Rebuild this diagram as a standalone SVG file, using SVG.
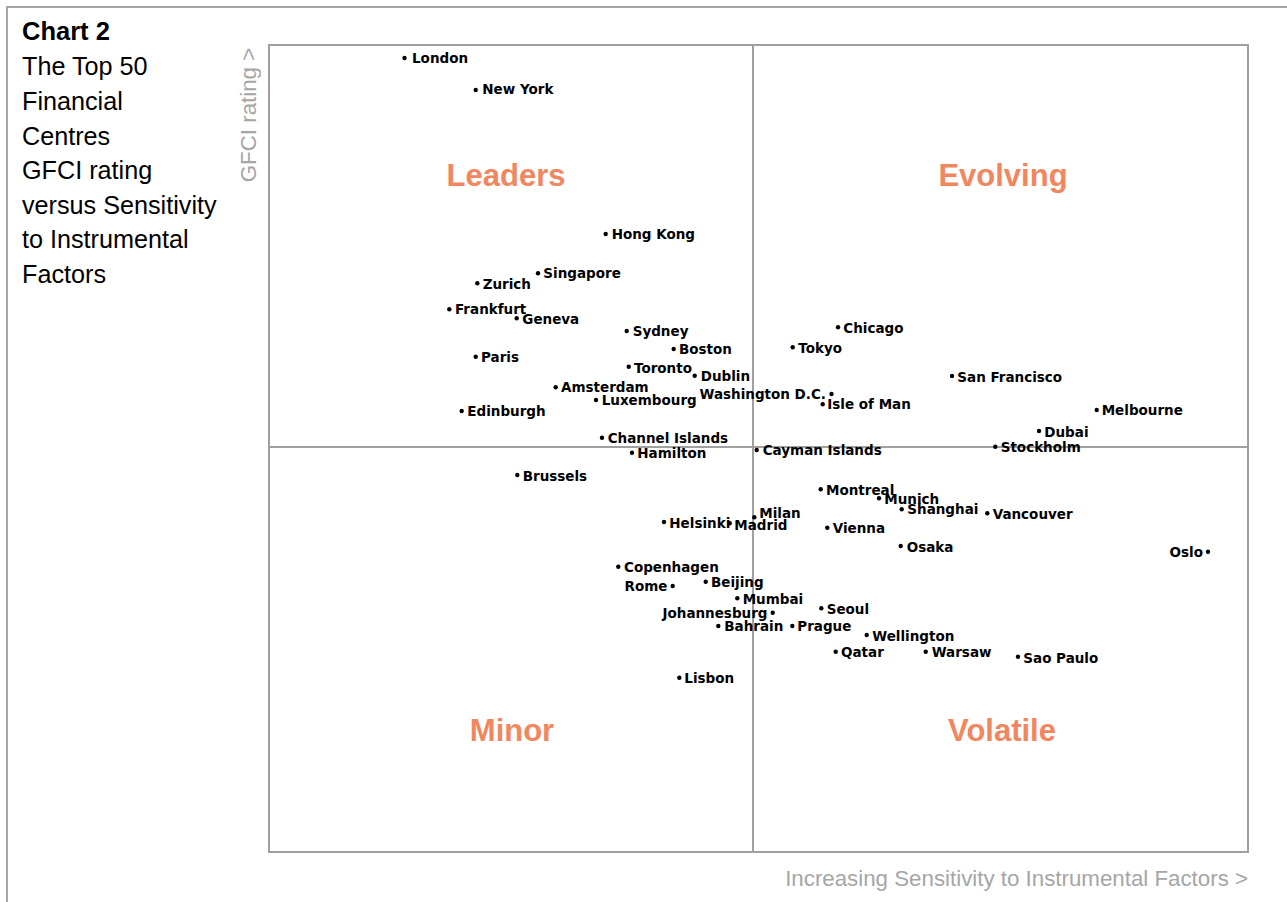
<svg xmlns="http://www.w3.org/2000/svg" width="1287" height="902" viewBox="0 0 1287 902">
<style>
.frame{fill:none;stroke:#a6a6a6;stroke-width:2}
.grid{fill:none;stroke:#a0a0a0;stroke-width:2}
.title{font-family:"Liberation Sans",Arial,sans-serif;font-size:25.2px;fill:#000}
.titleb{font-family:"Liberation Sans",Arial,sans-serif;font-size:25.5px;font-weight:bold;fill:#000}
.axis{font-family:"Liberation Sans",Arial,sans-serif;font-size:22.3px;fill:#a6a6a6}
.quad{font-family:"Liberation Sans",Arial,sans-serif;font-size:31px;font-weight:bold;fill:#f0875f;text-anchor:middle}
.lbl{font-family:"DejaVu Sans",Verdana,sans-serif;font-size:13.5px;font-weight:bold;fill:#000}
.lbl.r{text-anchor:end}
.dot{fill:#000}
</style>
<rect x="0" y="0" width="1287" height="902" fill="#fff"/>
<rect class="frame" x="7" y="7" width="1300" height="1000"/>
<g id="title">
<text class="titleb" x="22" y="40">Chart 2</text>
<text class="title" x="22" y="75">The Top 50</text>
<text class="title" x="22" y="110">Financial</text>
<text class="title" x="22" y="144.5">Centres</text>
<text class="title" x="22" y="179">GFCI rating</text>
<text class="title" x="22" y="213.5">versus Sensitivity</text>
<text class="title" x="22" y="248">to Instrumental</text>
<text class="title" x="22" y="283">Factors</text>
</g>
<g id="grid">
<rect class="grid" x="269" y="45" width="979" height="807"/>
<line class="grid" x1="753" y1="45" x2="753" y2="852"/>
<line class="grid" x1="269" y1="447" x2="1248" y2="447"/>
</g>
<g id="axis-labels">
<text class="axis" transform="translate(256,115) rotate(-90)" text-anchor="middle">GFCI rating &gt;</text>
<text class="axis" x="1248" y="886" text-anchor="end">Increasing Sensitivity to Instrumental Factors &gt;</text>
</g>
<g id="quadrants">
<text class="quad" x="506" y="186">Leaders</text>
<text class="quad" x="1003" y="186">Evolving</text>
<text class="quad" x="512" y="741">Minor</text>
<text class="quad" x="1002" y="741">Volatile</text>
</g>
<g id="connectors"></g>
<g id="cities">
<g id="london"><circle class="dot" cx="404.5" cy="58" r="2.2"/><text class="lbl" x="412" y="62.5">London</text></g>
<g id="new-york"><circle class="dot" cx="475.7" cy="90" r="2.2"/><text class="lbl" x="482.3" y="94">New York</text></g>
<g id="hong-kong"><circle class="dot" cx="605.7" cy="234" r="2.2"/><text class="lbl" x="611.7" y="239.3">Hong Kong</text></g>
<g id="singapore"><circle class="dot" cx="538" cy="273.3" r="2.2"/><text class="lbl" x="543.3" y="278.3">Singapore</text></g>
<g id="zurich"><circle class="dot" cx="477.3" cy="283.3" r="2.2"/><text class="lbl" x="482.7" y="289.3">Zurich</text></g>
<g id="frankfurt"><circle class="dot" cx="449.3" cy="309.3" r="2.2"/><text class="lbl" x="455" y="314.3">Frankfurt</text></g>
<g id="geneva"><circle class="dot" cx="516.7" cy="318.3" r="2.2"/><text class="lbl" x="522.3" y="324.3">Geneva</text></g>
<g id="sydney"><circle class="dot" cx="626.7" cy="331" r="2.2"/><text class="lbl" x="632.7" y="336">Sydney</text></g>
<g id="boston"><circle class="dot" cx="673.7" cy="349" r="2.2"/><text class="lbl" x="679" y="354">Boston</text></g>
<g id="paris"><circle class="dot" cx="475.7" cy="356.7" r="2.2"/><text class="lbl" x="481" y="362">Paris</text></g>
<g id="toronto"><circle class="dot" cx="628.7" cy="366.7" r="2.2"/><text class="lbl" x="634" y="372.7">Toronto</text></g>
<g id="dublin"><circle class="dot" cx="694.7" cy="375.7" r="2.2"/><text class="lbl" x="700.7" y="381.3">Dublin</text></g>
<g id="amsterdam"><circle class="dot" cx="555.7" cy="387.3" r="2.2"/><text class="lbl" x="561" y="392.3">Amsterdam</text></g>
<g id="luxembourg"><circle class="dot" cx="596" cy="400" r="2.2"/><text class="lbl" x="601.7" y="405">Luxembourg</text></g>
<g id="washington-dc"><circle class="dot" cx="831.5" cy="394" r="2.2"/><text class="lbl r" x="826" y="399">Washington D.C.</text></g>
<g id="edinburgh"><circle class="dot" cx="461.7" cy="411" r="2.2"/><text class="lbl" x="467.3" y="416">Edinburgh</text></g>
<g id="isle-of-man"><circle class="dot" cx="822.7" cy="404.3" r="2.2"/><text class="lbl" x="827.3" y="409.3">Isle of Man</text></g>
<g id="chicago"><circle class="dot" cx="838" cy="327.3" r="2.2"/><text class="lbl" x="843.3" y="332.7">Chicago</text></g>
<g id="tokyo"><circle class="dot" cx="792.7" cy="347.3" r="2.2"/><text class="lbl" x="798.3" y="352.7">Tokyo</text></g>
<g id="san-francisco"><circle class="dot" cx="952" cy="376" r="2.2"/><text class="lbl" x="957.3" y="381.7">San Francisco</text></g>
<g id="melbourne"><circle class="dot" cx="1096.7" cy="410" r="2.2"/><text class="lbl" x="1101.7" y="415">Melbourne</text></g>
<g id="dubai"><circle class="dot" cx="1039" cy="431" r="2.2"/><text class="lbl" x="1044.3" y="436.7">Dubai</text></g>
<g id="stockholm"><circle class="dot" cx="995.3" cy="446.7" r="2.2"/><text class="lbl" x="1000.7" y="452.3">Stockholm</text></g>
<g id="channel-islands"><circle class="dot" cx="602" cy="437.7" r="2.2"/><text class="lbl" x="607.7" y="442.7">Channel Islands</text></g>
<g id="hamilton"><circle class="dot" cx="632" cy="452.7" r="2.2"/><text class="lbl" x="637.3" y="457.7">Hamilton</text></g>
<g id="cayman-islands"><circle class="dot" cx="756.7" cy="450" r="2.2"/><text class="lbl" x="762.7" y="455">Cayman Islands</text></g>
<g id="brussels"><circle class="dot" cx="517.3" cy="475" r="2.2"/><text class="lbl" x="522.7" y="480.7">Brussels</text></g>
<g id="montreal"><circle class="dot" cx="820.7" cy="489.3" r="2.2"/><text class="lbl" x="826" y="494.7">Montreal</text></g>
<g id="munich"><circle class="dot" cx="879" cy="498.3" r="2.2"/><text class="lbl" x="884.3" y="504">Munich</text></g>
<g id="shanghai"><circle class="dot" cx="901.7" cy="509.3" r="2.2"/><text class="lbl" x="907.3" y="514.3">Shanghai</text></g>
<g id="vancouver"><circle class="dot" cx="987.3" cy="513.3" r="2.2"/><text class="lbl" x="992.7" y="519">Vancouver</text></g>
<g id="milan"><circle class="dot" cx="754.3" cy="517.3" r="2.2"/><text class="lbl" x="759.3" y="517.7">Milan</text></g>
<g id="helsinki"><circle class="dot" cx="664" cy="522" r="2.2"/><text class="lbl" x="669.3" y="527.7">Helsinki</text></g>
<g id="madrid"><circle class="dot" cx="729.7" cy="523.3" r="2.2"/><text class="lbl" x="734.3" y="530">Madrid</text></g>
<g id="vienna"><circle class="dot" cx="827.3" cy="527.7" r="2.2"/><text class="lbl" x="832.7" y="532.7">Vienna</text></g>
<g id="osaka"><circle class="dot" cx="900.7" cy="546" r="2.2"/><text class="lbl" x="906.7" y="551.7">Osaka</text></g>
<g id="oslo"><circle class="dot" cx="1208" cy="551.7" r="2.2"/><text class="lbl r" x="1203" y="557.3">Oslo</text></g>
<g id="copenhagen"><circle class="dot" cx="618.3" cy="566.7" r="2.2"/><text class="lbl" x="624" y="571.7">Copenhagen</text></g>
<g id="rome"><circle class="dot" cx="672.7" cy="586" r="2.2"/><text class="lbl r" x="667.5" y="590.7">Rome</text></g>
<g id="beijing"><circle class="dot" cx="705.7" cy="581.7" r="2.2"/><text class="lbl" x="711" y="586.7">Beijing</text></g>
<g id="mumbai"><circle class="dot" cx="737.3" cy="598.3" r="2.2"/><text class="lbl" x="742.7" y="604">Mumbai</text></g>
<g id="johannesburg"><circle class="dot" cx="772.7" cy="612.7" r="2.2"/><text class="lbl r" x="767.5" y="618.3">Johannesburg</text></g>
<g id="seoul"><circle class="dot" cx="821.3" cy="608.3" r="2.2"/><text class="lbl" x="826.7" y="614">Seoul</text></g>
<g id="bahrain"><circle class="dot" cx="718.3" cy="626" r="2.2"/><text class="lbl" x="724.3" y="631">Bahrain</text></g>
<g id="prague"><circle class="dot" cx="792.3" cy="626" r="2.2"/><text class="lbl" x="797.3" y="631">Prague</text></g>
<g id="wellington"><circle class="dot" cx="866.7" cy="635" r="2.2"/><text class="lbl" x="872.3" y="640.7">Wellington</text></g>
<g id="qatar"><circle class="dot" cx="835.7" cy="651.7" r="2.2"/><text class="lbl" x="841" y="656.7">Qatar</text></g>
<g id="warsaw"><circle class="dot" cx="925.7" cy="651.7" r="2.2"/><text class="lbl" x="931.7" y="656.7">Warsaw</text></g>
<g id="sao-paulo"><circle class="dot" cx="1018" cy="656.7" r="2.2"/><text class="lbl" x="1023.3" y="662.7">Sao Paulo</text></g>
<g id="lisbon"><circle class="dot" cx="679.3" cy="677.7" r="2.2"/><text class="lbl" x="684.3" y="682.7">Lisbon</text></g>
</g>
</svg>
